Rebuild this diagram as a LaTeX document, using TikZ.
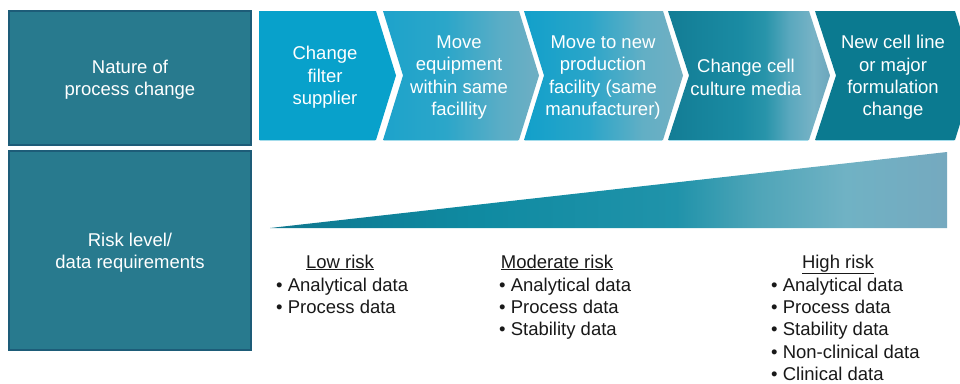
\documentclass[tikz,border=0pt]{standalone}
\usepackage{fontspec}
\setmainfont{Liberation Sans}
\definecolor{boxfill}{HTML}{287A8E}
\definecolor{boxline}{HTML}{1D5C78}
\definecolor{cA}{HTML}{08A1CB}
\definecolor{cE}{HTML}{0B7A90}
\definecolor{lightline}{HTML}{A3DCEB}
\definecolor{bA}{HTML}{1DA3CB}
\definecolor{bB}{HTML}{2BA6C9}
\definecolor{bC}{HTML}{5AADC6}
\definecolor{bD}{HTML}{6FAFC3}
\definecolor{dA}{HTML}{12A0CA}
\definecolor{dB}{HTML}{29A5C9}
\definecolor{dC}{HTML}{62AFC5}
\definecolor{dD}{HTML}{72AFC2}
\definecolor{eA}{HTML}{137D95}
\definecolor{eB}{HTML}{1A8BA3}
\definecolor{eC}{HTML}{2894AA}
\definecolor{eD}{HTML}{5AA8BE}
\definecolor{eE}{HTML}{78B3C6}
\definecolor{eF}{HTML}{6CA6BC}
\definecolor{wA}{HTML}{0F778F}
\definecolor{wB}{HTML}{0F8AA1}
\definecolor{wC}{HTML}{2093AA}
\definecolor{wD}{HTML}{4FA5B8}
\definecolor{wE}{HTML}{70B2C4}
\definecolor{wF}{HTML}{75A9BF}
\pgfdeclarehorizontalshading{shB}{100bp}{color(0bp)=(bA); color(25bp)=(bA); color(45bp)=(bB); color(62.5bp)=(bC); color(75bp)=(bD); color(100bp)=(bD)}
\pgfdeclarehorizontalshading{shC}{100bp}{color(0bp)=(dA); color(25bp)=(dA); color(45bp)=(dB); color(62.5bp)=(dC); color(75bp)=(dD); color(100bp)=(dD)}
\pgfdeclarehorizontalshading{shD}{100bp}{color(0bp)=(eA); color(25bp)=(eA); color(47.5bp)=(eB); color(55bp)=(eC); color(62.5bp)=(eD); color(70bp)=(eE); color(75bp)=(eF); color(100bp)=(eF)}
\pgfdeclarehorizontalshading{shW}{100bp}{color(0bp)=(wA); color(25bp)=(wA); color(40bp)=(wB); color(55bp)=(wC); color(61bp)=(wD); color(67.5bp)=(wE); color(75bp)=(wF); color(100bp)=(wF)}
\begin{document}
\begin{tikzpicture}[x=1pt,y=-1pt,
  sidebox/.style={draw=boxline, line width=1.2pt, fill=boxfill},
  wtxt/.style={text=white, align=center, inner sep=0pt, font=\fontsize{18.5}{22.3}\selectfont},
  lst/.style={text=black!90, inner sep=0pt, font=\fontsize{18.5}{22.3}\selectfont},
  chevline/.style={draw=lightline, line width=1pt}]
\useasboundingbox (0,0) rectangle (960,383);
\fill[white] (0,0) rectangle (960,383);
% left boxes
\draw[sidebox] (9,11) rectangle (251,145);
\node[wtxt] (box1) at (130,80) {Nature of\\process change};
\draw[sidebox] (9,151) rectangle (251,350);
\node[wtxt] (box2) at (130,252.5) {Risk level/\\data requirements};
% chevrons
\fill[cA] (259,11) -- (376,11) -- (396,75.5) -- (376,140) -- (259,140) -- cycle;
\shade[shading=shB] (383,11) -- (519,11) -- (539,75.5) -- (519,140) -- (383,140) -- (403,75.5) -- cycle;
\shade[shading=shC] (524,11) -- (663,11) -- (683,75.5) -- (663,140) -- (524,140) -- (544,75.5) -- cycle;
\shade[shading=shD] (668,11) -- (809,11) -- (830,75.5) -- (809,140) -- (668,140) -- (689,75.5) -- cycle;
\fill[cE] (815,11) -- (955,11) -- (975,75.5) -- (955,140) -- (815,140) -- (836,75.5) -- cycle;
\draw[chevline] (260,140.8) -- (375,140.8);
\draw[chevline] (384,140.8) -- (518,140.8);
\draw[chevline] (525,140.8) -- (662,140.8);
\draw[chevline] (669,140.8) -- (808,140.8);
\draw[chevline] (816,140.8) -- (954,140.8);
\node[wtxt] (t1) at (325,77.5) {Change\\filter\\supplier};
\node[wtxt] (t2) at (459,77.5) {Move\\equipment\\within same\\facillity};
\node[wtxt] (t3) at (603,77.5) {Move to new\\production\\facility (same\\manufacturer)};
\node[wtxt] (t4) at (746,77.5) {Change cell\\culture media};
\node[wtxt] (t5) at (893,77.5) {New cell line\\or major\\formulation\\change};
% wedge
\shade[shading=shW] (270,228) -- (947,152) -- (947,228) -- cycle;
% risk lists
\node[lst, anchor=base] (lowT) at (340,268) {\underline{Low risk}};
\foreach \t [count=\i] in {Analytical data, Process data}
  \node[lst, anchor=base west] (low\i) at (276,269.6+22.1*\i) {\textbullet\ \t};
\node[lst, anchor=base] (modT) at (557,268) {\underline{Moderate risk}};
\foreach \t [count=\i] in {Analytical data, Process data, Stability data}
  \node[lst, anchor=base west] (mod\i) at (499,269.6+22.1*\i) {\textbullet\ \t};
\node[lst, anchor=base] (highT) at (838,268) {\underline{High risk}};
\foreach \t [count=\i] in {Analytical data, Process data, Stability data, Non-clinical data, Clinical data}
  \node[lst, anchor=base west] (high\i) at (771,269.6+22.1*\i) {\textbullet\ \t};
\end{tikzpicture}
\end{document}
